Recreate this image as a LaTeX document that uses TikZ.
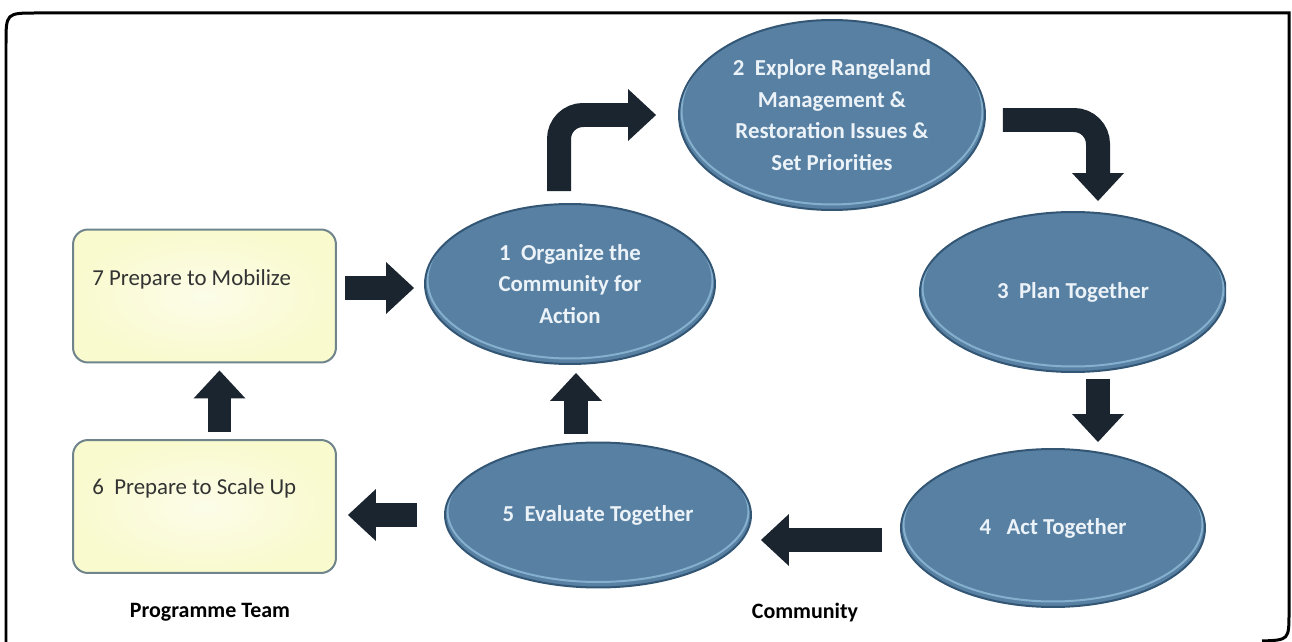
\documentclass[tikz,border=0pt]{standalone}
\usepackage{fontspec}
\setmainfont{Carlito}
\usetikzlibrary{arrows.meta,shapes.geometric,positioning,calc}
\definecolor{stageblue}{RGB}{88,128,163}
\definecolor{stageedge}{RGB}{50,86,116}
\definecolor{stagerim}{RGB}{132,176,206}
\definecolor{stagetext}{RGB}{236,243,248}
\definecolor{teamfill}{RGB}{249,250,206}
\definecolor{teamedge}{RGB}{112,132,140}
\definecolor{flowdark}{RGB}{27,37,48}

\tikzset{
  stage/.style={ellipse, fill=stageblue, draw=stageedge, line width=0.04cm,
    inner sep=0pt, text=stagetext, align=center,
    font=\fontsize{13}{18}\selectfont\bfseries,
    path picture={
      \draw[stagerim, line width=0.04cm]
        let \p1=($(path picture bounding box.north east)-(path picture bounding box.center)$)
        in ([yshift=0.08cm]path picture bounding box.center)
        ellipse [x radius=\x1-0.05cm, y radius=\y1-0.03cm];
    }},
  teambox/.style={rectangle, rounded corners=0.3cm, draw=teamedge,
    inner color=teamfill!45!white, outer color=teamfill,
    line width=0.04cm, minimum width=5.26cm, minimum height=2.66cm},
  teamtext/.style={font=\fontsize{13}{16}\selectfont, text=black!80,
    anchor=west, inner sep=0pt},
  flowarrow/.style={draw=flowdark, line width=0.48cm,
    -{Triangle[length=0.56cm,width=1.04cm,line width=0pt]}},
  grouplabel/.style={font=\fontsize{12.5}{15}\selectfont\bfseries},
}

\begin{document}
\begin{tikzpicture}[x=0.02cm, y=-0.02cm]
    \useasboundingbox (0,0) rectangle (1292,642);
    \fill[white] (0,0) rectangle (1292,642);

    % outer frame
    \draw[line width=0.06cm] (6,650) -- (6,44) .. controls (6,13) .. (37,13)
        -- (1289,13) -- (1289,612) .. controls (1289,640) .. (1262,641);

    % programme team boxes
    \node[teambox] (b7) at (204.5,296) {};
    \node[teamtext] (t7) at ([xshift=0.4cm,yshift=-1.02cm]b7.north west) {7 Prepare to Mobilize};
    \node[teambox] (b6) at (204.5,506.5) {};
    \node[teamtext] (t6) at ([xshift=0.4cm,yshift=-0.98cm]b6.north west) {6~ Prepare to Scale Up};

    % community cycle
    \node[stage, minimum width=5.8cm, minimum height=3.2cm] (e1) at (570,284)
        {1~ Organize the\\Community for\\Action};
    \node[stage, minimum width=6.12cm, minimum height=3.8cm] (e2) at (832,115)
        {2~ Explore Rangeland\\Management \&\\Restoration Issues \&\\Set Priorities};
    \begin{scope}
        \clip (0,0) rectangle (1226,642);
        \node[stage, minimum width=6.12cm, minimum height=3.2cm] (e3) at (1073,292)
            {3~ Plan Together};
    \end{scope}
    \node[stage, minimum width=6.08cm, minimum height=3.16cm] (e4) at (1053,528)
        {4~~ Act Together};
    \node[stage, minimum width=6.12cm, minimum height=2.9cm] (e5) at (598,515)
        {5~ Evaluate Together};

    \node[grouplabel] (team) at (210,612) {Programme Team};
    \node[grouplabel] (comm) at (805,613) {Community};

    % arrows
    \draw[flowarrow, rounded corners=0.48cm, shorten <=0.24cm, shorten >=0.44cm]
        ([xshift=-0.22cm]e1.north) |- (e2.west);
    \draw[flowarrow, rounded corners=0.48cm, shorten <=0.34cm, shorten >=0.2cm]
        ([yshift=-0.1cm]e2.east) -| ([xshift=0.5cm]e3.north);
    \draw[flowarrow, shorten <=0.12cm, shorten >=0.12cm]
        ([xshift=0.5cm]e3.south) -- ([xshift=0.5cm]e3.south |- e4.north);
    \draw[flowarrow, shorten <=0.36cm, shorten >=0.18cm]
        ([yshift=-0.24cm]e4.west) -- ([yshift=-0.24cm]e4.west -| e5.east);
    \draw[flowarrow, shorten <=0.16cm, shorten >=0.16cm]
        ([xshift=0.12cm]e5.north -| e1.south) -- ([xshift=0.12cm]e1.south);
    \draw[flowarrow, shorten <=0.54cm, shorten >=0.22cm]
        (e5.west) -- (e5.west -| b6.east);
    \draw[flowarrow, shorten <=0.14cm, shorten >=0.14cm]
        ([xshift=0.3cm]b6.north) -- ([xshift=0.3cm]b7.south);
    \draw[flowarrow, shorten <=0.16cm, shorten >=0.2cm]
        ([yshift=0.16cm]b7.east) -- ([yshift=0.16cm]b7.east -| e1.west);
\end{tikzpicture}
\end{document}
